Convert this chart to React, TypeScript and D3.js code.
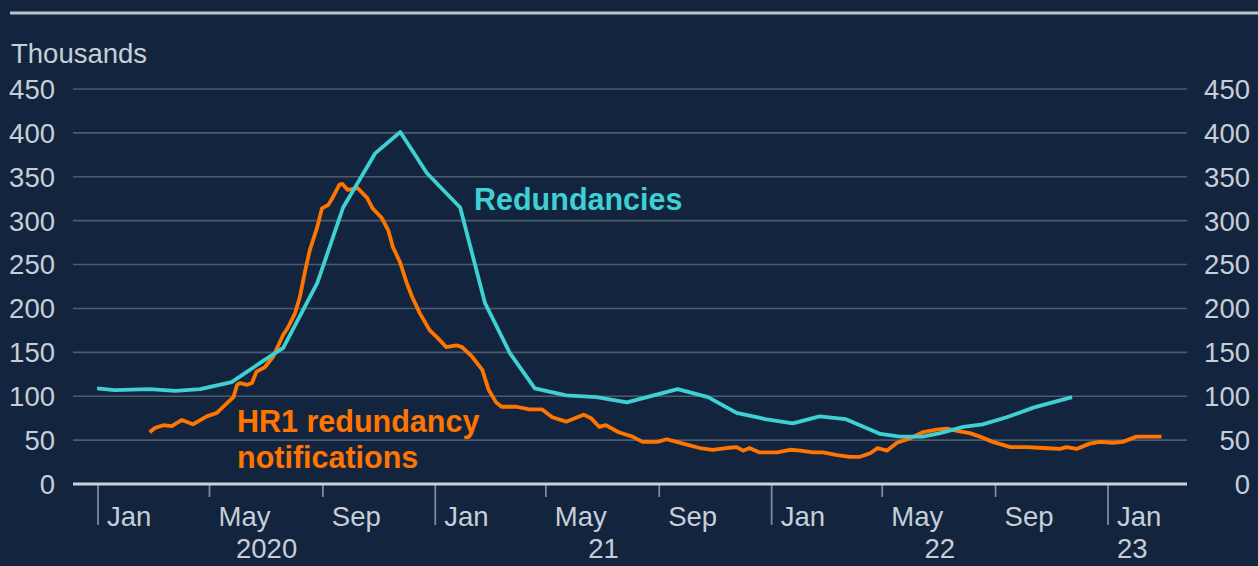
import React from 'react';
import * as d3 from 'd3';

// HR1 redundancy notifications, thousands
const hr1Dates = [
  '2020-02-26', '2020-03-03', '2020-03-12', '2020-03-21', '2020-04-01', '2020-04-13', '2020-04-28',
  '2020-05-09', '2020-05-20', '2020-05-27', '2020-05-31', '2020-06-03', '2020-06-11', '2020-06-16',
  '2020-06-21', '2020-06-30', '2020-07-09', '2020-07-16', '2020-07-20', '2020-07-25', '2020-08-02',
  '2020-08-07', '2020-08-13', '2020-08-18', '2020-08-26', '2020-08-31', '2020-09-07', '2020-09-12',
  '2020-09-19', '2020-09-22', '2020-09-28', '2020-10-09', '2020-10-19', '2020-10-25', '2020-11-04',
  '2020-11-11', '2020-11-16', '2020-11-24', '2020-12-01', '2020-12-07', '2020-12-15', '2020-12-26',
  '2021-01-03', '2021-01-13', '2021-01-24', '2021-01-30', '2021-02-10', '2021-02-21', '2021-02-28',
  '2021-03-08', '2021-03-14', '2021-03-30', '2021-04-13', '2021-04-27', '2021-05-08', '2021-05-23',
  '2021-06-11', '2021-06-19', '2021-06-28', '2021-07-05', '2021-07-19', '2021-08-03', '2021-08-14',
  '2021-08-30', '2021-09-09', '2021-09-20', '2021-10-04', '2021-10-15', '2021-10-29', '2021-11-13',
  '2021-11-24', '2021-12-01', '2021-12-08', '2021-12-19', '2022-01-07', '2022-01-21', '2022-02-01',
  '2022-02-15', '2022-02-26', '2022-03-13', '2022-03-27', '2022-04-07', '2022-04-18', '2022-04-26',
  '2022-05-06', '2022-05-17', '2022-05-31', '2022-06-14', '2022-06-29', '2022-07-10', '2022-07-24',
  '2022-08-04', '2022-08-15', '2022-08-29', '2022-09-17', '2022-10-05', '2022-10-22', '2022-11-10',
  '2022-11-17', '2022-11-28', '2022-12-12', '2022-12-23', '2023-01-06', '2023-01-17', '2023-02-01',
  '2023-02-15', '2023-02-28',
];
const hr1Values = [
  59, 64, 67, 66, 73, 68, 77,
  81, 92, 99, 113, 115, 113, 115,
  128, 133, 145, 161, 170, 178, 195,
  213, 244, 267, 293, 314, 318, 327,
  341, 342, 335, 337, 326, 314, 303,
  289, 270, 252, 229, 213, 195, 175,
  167, 156, 158, 156, 145, 130, 107,
  93, 88, 88, 85, 85, 76, 71,
  79, 75, 65, 67, 59, 54, 48,
  48, 51, 48, 44, 41, 39, 41,
  42, 38, 41, 36, 36, 39, 38,
  36, 36, 33, 31, 31, 35, 41,
  38, 47, 52, 59, 62, 63, 60,
  58, 54, 48, 42, 42, 41, 40,
  42, 40, 46, 48, 47, 48, 54,
  54, 54, 50,
];

// Redundancies, thousands
const redDates = [
  '2019-12-31', '2020-01-19', '2020-02-26', '2020-03-25', '2020-04-21', '2020-05-25', '2020-06-25',
  '2020-07-20', '2020-08-26', '2020-09-23', '2020-10-28', '2020-11-24', '2020-12-23', '2021-01-28',
  '2021-02-24', '2021-03-23', '2021-04-19', '2021-05-23', '2021-06-25', '2021-07-28', '2021-08-26',
  '2021-09-21', '2021-10-24', '2021-11-24', '2021-12-25', '2022-01-24', '2022-02-22', '2022-03-22',
  '2022-04-29', '2022-05-20', '2022-06-14', '2022-07-03', '2022-07-28', '2022-08-18', '2022-09-13',
  '2022-10-12', '2022-11-23',
];
const redValues = [
  109, 107, 108, 106, 108, 116, 138,
  155, 229, 315, 377, 401, 354, 315,
  206, 149, 109, 101, 99, 93, 101,
  108, 99, 81, 74, 69, 77, 74,
  57, 54, 54, 58, 65, 68, 76,
  87, 99,
];

const yTicks = [0, 50, 100, 150, 200, 250, 300, 350, 400, 450];
const yearLabels = ['2020', '21', '22', '23'];

const W = 1258;
const H = 566;
const bg = '#13253e';
const textCol = '#c6ced8';
const gridCol = '#4b5b70';
const cyan = '#3fd0d4';
const orange = '#ff7500';
const font = '"Liberation Sans", Arial, sans-serif';
const fs = 27.5;

const parse = d3.utcParse('%Y-%m-%d');

export default function App() {
  const x = d3
    .scaleUtc()
    .domain([new Date(Date.UTC(2020, 0, 1)), new Date(Date.UTC(2023, 0, 1))])
    .range([98, 1108]);
  const y = d3.scaleLinear().domain([0, 450]).range([484, 89]);
  const left = 73;
  const right = 1187;

  const hr1 = hr1Dates.map((d, i) => ({ date: parse(d) as Date, value: hr1Values[i] }));
  const red = redDates.map((d, i) => ({ date: parse(d) as Date, value: redValues[i] }));

  const lineGen = d3
    .line<{ date: Date; value: number }>()
    .x((d) => x(d.date))
    .y((d) => y(d.value));

  const months = d3.utcMonth.every(4)!.range(new Date(Date.UTC(2020, 0, 1)), new Date(Date.UTC(2023, 0, 2)));
  const fmt = d3.utcFormat('%b');
  const years = [2020, 2021, 2022, 2023];

  return (
    <svg
      width={W}
      height={H}
      style={{ position: 'absolute', left: 0, top: 0, display: 'block' }}
      fontFamily={font}
    >
      <rect width={W} height={H} fill={bg} />
      <line x1={10} x2={W} y1={13} y2={13} stroke="#b9c3ce" strokeWidth={3} />
      <text x={11} y={63} fill={textCol} fontSize={fs}>
        Thousands
      </text>

      {yTicks.map((t) => (
        <g key={t}>
          {t > 0 && (
            <line x1={left} x2={right} y1={y(t)} y2={y(t)} stroke={gridCol} strokeWidth={1.6} />
          )}
          <text x={55} y={y(t)} dy="0.36em" textAnchor="end" fill={textCol} fontSize={fs}>
            {t}
          </text>
          <text x={1250} y={y(t)} dy="0.36em" textAnchor="end" fill={textCol} fontSize={fs}>
            {t}
          </text>
        </g>
      ))}

      {months.map((m) => {
        const isJan = m.getUTCMonth() === 0;
        return (
          <g key={m.toISOString()}>
            <line
              x1={x(m)}
              x2={x(m)}
              y1={484}
              y2={isJan ? 525 : 497}
              stroke="#7d8a9b"
              strokeWidth={1.8}
            />
            <text x={x(m) + 9} y={526} fill={textCol} fontSize={fs}>
              {fmt(m)}
            </text>
          </g>
        );
      })}

      {years.map((yr, i) => {
        const start = new Date(Date.UTC(yr, 0, 1));
        const end = new Date(Date.UTC(yr + 1, 0, 1));
        const fits = x(end) <= right;
        return (
          <text
            key={yr}
            x={fits ? (x(start) + x(end)) / 2 : x(start) + 9}
            y={558}
            textAnchor={fits ? 'middle' : 'start'}
            fill={textCol}
            fontSize={fs}
          >
            {yearLabels[i]}
          </text>
        );
      })}

      <line x1={left} x2={right} y1={484} y2={484} stroke="#c9d1da" strokeWidth={3} />

      <path d={lineGen(hr1) || ''} fill="none" stroke={orange} strokeWidth={3.8} strokeLinejoin="round" />
      <path d={lineGen(red) || ''} fill="none" stroke={cyan} strokeWidth={3.8} strokeLinejoin="round" />

      <text x={474} y={210} fill={cyan} fontSize={30.5} fontWeight="bold">
        Redundancies
      </text>
      <text x={237} y={432} fill={orange} fontSize={30.5} fontWeight="bold">
        HR1 redundancy
      </text>
      <text x={237} y={468} fill={orange} fontSize={30.5} fontWeight="bold">
        notifications
      </text>
    </svg>
  );
}
